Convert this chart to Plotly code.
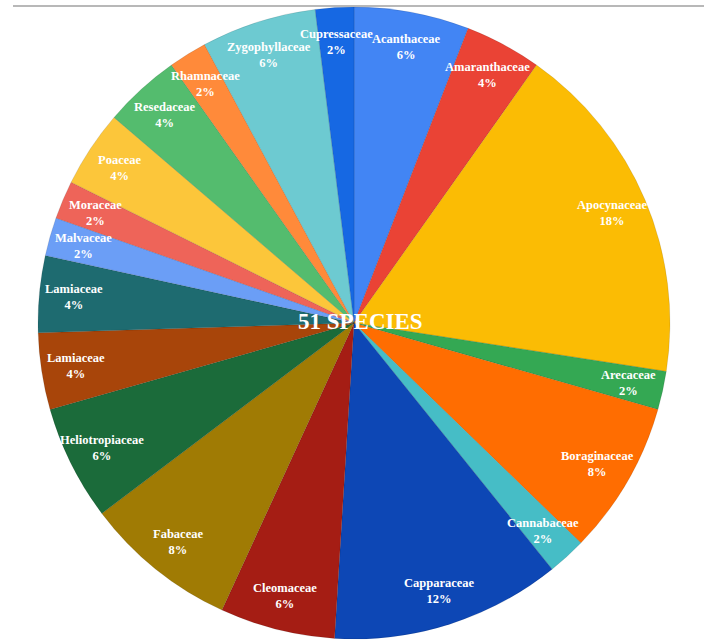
import math
import plotly.graph_objects as go

# Plant families and number of species recorded in each
families = [
    "Acanthaceae", "Amaranthaceae", "Apocynaceae", "Arecaceae", "Boraginaceae",
    "Cannabaceae", "Capparaceae", "Cleomaceae", "Fabaceae", "Heliotropiaceae",
    "Lamiaceae", "Lamiaceae", "Malvaceae", "Moraceae", "Poaceae",
    "Resedaceae", "Rhamnaceae", "Zygophyllaceae", "Cupressaceae",
]
species_counts = [3, 2, 9, 1, 4, 1, 6, 3, 4, 3, 2, 2, 1, 1, 2, 2, 1, 3, 1]
center_title = "51 SPECIES"

slice_colors = [
    "#4285F4", "#EA4335", "#FBBC04", "#34A853", "#FF6D01",
    "#46BDC6", "#0D47B5", "#A51D14", "#A07B04", "#1B6B3A",
    "#A8450A", "#1E6B70", "#6B9EF6", "#EE6459", "#FCC63A",
    "#54BC6E", "#FF8A3A", "#6DCAD1", "#1668E3",
]

total = sum(species_counts)

fig = go.Figure(
    go.Pie(
        values=species_counts,
        sort=False,
        direction="clockwise",
        rotation=0,
        textinfo="none",
        hoverinfo="skip",
        marker=dict(colors=slice_colors, line=dict(color="rgba(0,0,0,0.10)", width=1)),
        domain=dict(x=[0, 1], y=[0, 1]),
        showlegend=False,
    )
)

serif = "Liberation Serif, Times New Roman, serif"
label_font = dict(family=serif, size=12.5, color="white")

# Slice labels placed along each slice's mid-angle
annotations = []
cum = 0
for name, n in zip(families, species_counts):
    mid = (cum + n / 2) / total * 2 * math.pi
    cum += n
    r = 0.5 * 0.89
    pct = round(n / total * 100)
    annotations.append(dict(
        x=0.5 + r * math.sin(mid), y=0.5 + r * math.cos(mid),
        xref="paper", yref="paper", xanchor="center", yanchor="middle",
        showarrow=False, text=f"<b>{name}<br>{pct}%</b>",
        font=label_font, align="center",
    ))

annotations.append(dict(
    x=0.5, y=0.5, xref="paper", yref="paper", xanchor="center", yanchor="middle",
    showarrow=False, xshift=6, yshift=2,
    text=f"<b>{center_title}</b>",
    font=dict(family=serif, size=23, color="white"),
))

fig.update_layout(
    width=704, height=642,
    margin=dict(l=38, r=34, t=7, b=3),
    paper_bgcolor="white", plot_bgcolor="white",
    annotations=annotations,
    shapes=[dict(
        type="line", xref="paper", yref="paper",
        x0=-25 / 632, x1=666 / 632, y0=1.0015, y1=1.0015,
        line=dict(color="#a0a0a0", width=1.5),
    )],
)

fig.write_html("out.html")
